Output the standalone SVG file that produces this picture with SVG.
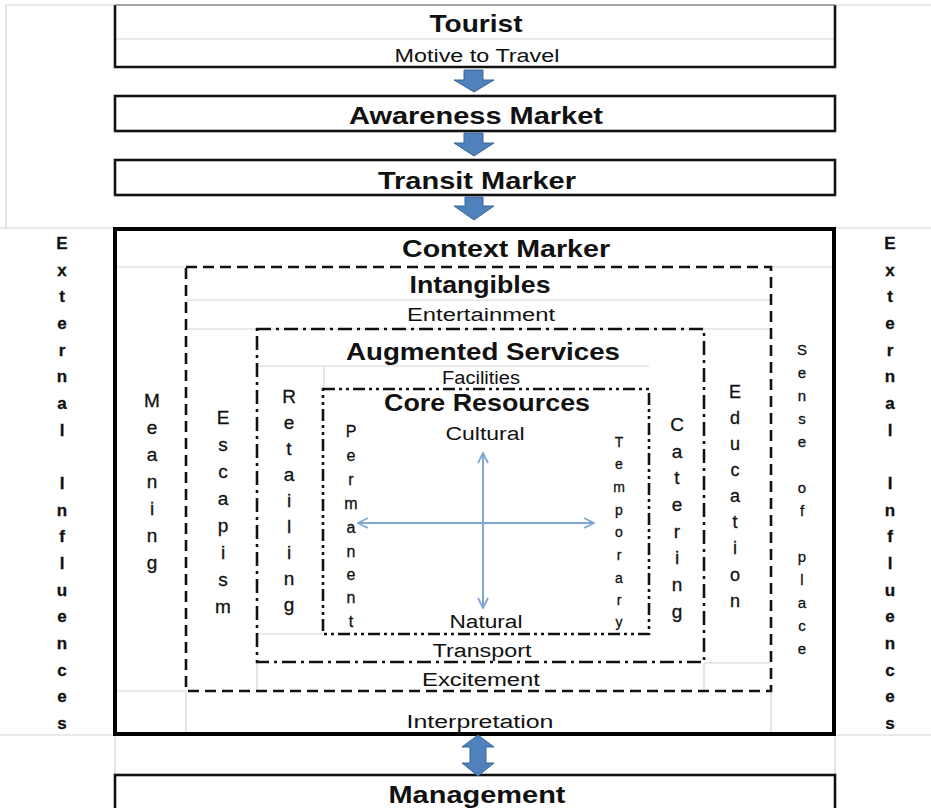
<svg xmlns="http://www.w3.org/2000/svg" width="931" height="808" viewBox="0 0 931 808">
<style>
.grid{stroke:#d4d4d4;stroke-width:1.2;fill:none}
.box{fill:#fff;stroke:#111;stroke-width:2.6}
.main{fill:none;stroke:#000;stroke-width:4}
.dash{fill:none;stroke:#111;stroke-width:2.6;stroke-dasharray:11 6}
.dashdot{fill:none;stroke:#111;stroke-width:2.6;stroke-dasharray:14 5 3 5}
.dashdotdot{fill:none;stroke:#111;stroke-width:2.6;stroke-dasharray:12 4 3 4 3 4}
.h{font-family:"Liberation Sans",Arial,sans-serif;font-weight:bold;fill:#111;text-anchor:middle}
.t{font-family:"Liberation Sans",Arial,sans-serif;fill:#111;text-anchor:middle}
.v{font-family:"Liberation Sans",Arial,sans-serif;fill:#111;text-anchor:middle;stroke:#111;stroke-width:0.3}
.blk{fill:#4f81bd;stroke:#3b6699;stroke-width:1}
.thin{stroke:#7ea6d6;stroke-width:2;fill:none}
</style>
<defs>
<marker id="chev" viewBox="0 0 12 12" refX="11" refY="6" markerWidth="12" markerHeight="12" markerUnits="userSpaceOnUse" orient="auto">
<path d="M1,1 L11,6 L1,11" fill="none" stroke="#7ea6d6" stroke-width="1.8"/>
</marker>
</defs>
<rect width="931" height="808" fill="#fff"/>
<g id="gridlines">
<line class="grid" x1="6" y1="5" x2="931" y2="5"/>
<line class="grid" x1="6" y1="5" x2="6" y2="228"/>
<line class="grid" x1="0" y1="228" x2="931" y2="228"/>
<line class="grid" x1="0" y1="735" x2="115" y2="735"/>
<line class="grid" x1="835" y1="735" x2="931" y2="735"/>
<line class="grid" x1="115" y1="735" x2="115" y2="775"/>
<line class="grid" x1="835" y1="735" x2="835" y2="775"/>
<line class="grid" x1="115" y1="39" x2="835" y2="39"/>
<line class="grid" x1="115" y1="267" x2="186" y2="267"/>
<line class="grid" x1="771" y1="267" x2="833" y2="267"/>
<line class="grid" x1="186" y1="300" x2="771" y2="300"/>
<line class="grid" x1="186" y1="329" x2="771" y2="329"/>
<line class="grid" x1="257" y1="366" x2="649" y2="366"/>
<line class="grid" x1="324" y1="366" x2="324" y2="389"/>
<line class="grid" x1="257" y1="634" x2="323" y2="634"/>
<line class="grid" x1="257" y1="662" x2="257" y2="691"/>
<line class="grid" x1="704" y1="663" x2="771" y2="663"/>
<line class="grid" x1="704" y1="663" x2="704" y2="691"/>
<line class="grid" x1="115" y1="691" x2="186" y2="691"/>
<line class="grid" x1="186" y1="691" x2="186" y2="733"/>
<line class="grid" x1="771" y1="691" x2="771" y2="733"/>
</g>
<g id="tourist">
<path d="M115,5 V67 H835 V5" fill="none" stroke="#111" stroke-width="2.6"/>
<line x1="115" y1="5" x2="835" y2="5" stroke="#8a8a8a" stroke-width="1.5"/>
<text class="h" x="476" y="32" font-size="24" textLength="93" lengthAdjust="spacingAndGlyphs">Tourist</text>
<text class="t" x="477" y="62" font-size="18" textLength="165" lengthAdjust="spacingAndGlyphs">Motive to Travel</text>
</g>
<g id="awareness">
<rect class="box" x="115" y="96" width="720" height="35"/>
<text class="h" x="476" y="124" font-size="24" textLength="254" lengthAdjust="spacingAndGlyphs">Awareness Market</text>
</g>
<g id="transit">
<rect class="box" x="115" y="160" width="720" height="35"/>
<text class="h" x="477" y="189" font-size="24" textLength="198" lengthAdjust="spacingAndGlyphs">Transit Marker</text>
</g>
<g id="context">
<rect class="main" x="115" y="229" width="719" height="505"/>
<text class="h" x="506" y="257" font-size="24" textLength="208" lengthAdjust="spacingAndGlyphs">Context Marker</text>
<text class="t" x="480" y="728" font-size="18" textLength="147" lengthAdjust="spacingAndGlyphs">Interpretation</text>
<text class="v" font-size="19" x="152 152 152 152 152 152 152" y="407 434 461 488 515 542 569">Meaning</text>
<text class="v" font-size="15" x="802 802 802 802 802 802 802 802 802 802 802 802 802 802" y="355 378 401 424 447 470 493 516 539 562 585 608 631 654">Sense of place</text>
</g>
<g id="intangibles">
<rect class="dash" x="186" y="267" width="585" height="424"/>
<text class="h" x="480" y="293" font-size="24" textLength="141" lengthAdjust="spacingAndGlyphs">Intangibles</text>
<text class="t" x="481" y="321" font-size="18" textLength="148" lengthAdjust="spacingAndGlyphs">Entertainment</text>
<text class="t" x="481" y="686" font-size="18" textLength="118" lengthAdjust="spacingAndGlyphs">Excitement</text>
<text class="v" font-size="19" x="223 223 223 223 223 223 223 223" y="424 451 478 505 532 559 586 613">Escapism</text>
<text class="v" font-size="18" x="735 735 735 735 735 735 735 735 735" y="398 424 450 476 502 528 554 581 607">Education</text>
</g>
<g id="augmented">
<rect class="dashdot" x="257" y="329" width="447" height="333"/>
<text class="h" x="483" y="360" font-size="24" textLength="274" lengthAdjust="spacingAndGlyphs">Augmented Services</text>
<text class="t" x="481" y="384" font-size="18" textLength="78" lengthAdjust="spacingAndGlyphs">Facilities</text>
<text class="t" x="482" y="657" font-size="18" textLength="99" lengthAdjust="spacingAndGlyphs">Transport</text>
<text class="v" font-size="19" x="289 289 289 289 289 289 289 289 289" y="403 429 455 481 507 533 559 585 611">Retailing</text>
<text class="v" font-size="19" x="677 677 677 677 677 677 677 677" y="431 458 484 511 538 564 591 618">Catering</text>
</g>
<g id="core">
<rect class="dashdotdot" x="323" y="389" width="326" height="245"/>
<text class="h" x="487" y="411" font-size="24" textLength="206" lengthAdjust="spacingAndGlyphs">Core Resources</text>
<text class="t" x="485" y="440" font-size="18" textLength="79" lengthAdjust="spacingAndGlyphs">Cultural</text>
<text class="t" x="486" y="628" font-size="18" textLength="73" lengthAdjust="spacingAndGlyphs">Natural</text>
<text class="v" font-size="16" x="351 351 351 351 351 351 351 351 351" y="437 461 485 509 533 557 580 603 627">Permanent</text>
<text class="v" font-size="14" x="619 619 619 619 619 619 619 619 619" y="447 469 492 515 537 560 583 605 627">Temporary</text>
</g>
<g id="external-left">
<text class="v" font-weight="bold" font-size="17" x="62 62 62 62 62 62 62 62 62 62 62 62 62 62 62 62 62 62 62" y="249 276 302 329 356 382 409 436 462 489 516 542 569 596 622 649 676 702 729">External Influences</text>
</g>
<g id="external-right">
<text class="v" font-weight="bold" font-size="17" x="890 890 890 890 890 890 890 890 890 890 890 890 890 890 890 890 890 890 890" y="249 276 302 329 356 382 409 436 462 489 516 542 569 596 622 649 676 702 729">External Influences</text>
</g>
<g id="management">
<rect class="box" x="115" y="775" width="720" height="40"/>
<text class="h" x="477" y="803" font-size="24" textLength="177" lengthAdjust="spacingAndGlyphs">Management</text>
</g>
<g id="connectors">
<path class="blk" d="M464,70 H483 V80 H494 L474,92 L454,80 H464 Z"/>
<path class="blk" d="M464,133 H483 V143 H494 L474,156 L454,143 H464 Z"/>
<path class="blk" d="M465,197 H483 V206 H494 L474,220 L454,206 H465 Z"/>
<path class="blk" d="M478,735 L494,747 H486 V763 H494 L478,776 L462,763 H470 V747 H462 Z"/>
<line class="thin" x1="483" y1="608" x2="483" y2="453" marker-end="url(#chev)"/>
<line class="thin" x1="483" y1="453" x2="483" y2="608" marker-end="url(#chev)"/>
<line class="thin" x1="594" y1="523" x2="358" y2="523" marker-end="url(#chev)"/>
<line class="thin" x1="358" y1="523" x2="594" y2="523" marker-end="url(#chev)"/>
</g>
</svg>
